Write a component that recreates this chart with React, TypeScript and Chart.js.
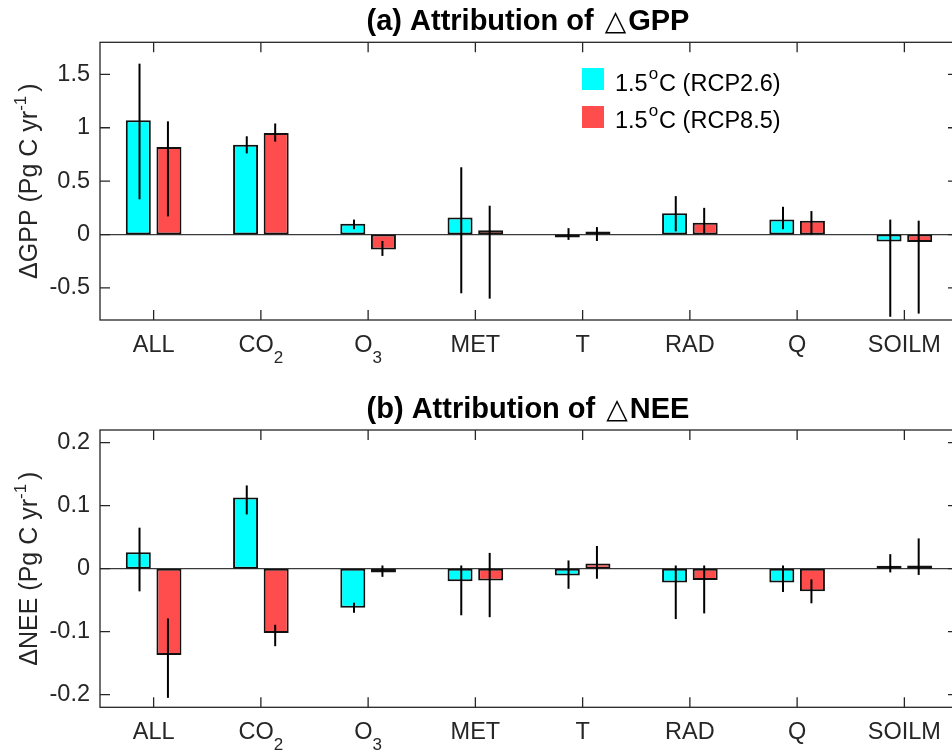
import { useEffect, useRef } from 'react';
import { Chart, registerables } from 'chart.js';

Chart.register(...registerables);

// ---------- data ----------
const CATEGORY_KEYS = ['ALL', 'CO2', 'O3', 'MET', 'T', 'RAD', 'Q', 'SOILM'];
const CATEGORY_MAIN = ['ALL', 'CO', 'O', 'MET', 'T', 'RAD', 'Q', 'SOILM'];
const CATEGORY_SUB = ['', '2', '3', '', '', '', '', ''];
const SERIES_NAMES = ['1.5°C (RCP2.6)', '1.5°C (RCP8.5)'];

// (a) GPP
const GPP_RCP26 = [1.07, 0.84, 0.1, 0.16, -0.005, 0.2, 0.14, -0.065];
const GPP_RCP26_LO = [0.33, 0.76, 0.05, -0.55, -0.05, 0.03, 0.05, -0.77];
const GPP_RCP26_HI = [1.6, 0.92, 0.14, 0.63, 0.06, 0.36, 0.26, 0.14];
const GPP_RCP85 = [0.82, 0.95, -0.14, 0.04, 0.005, 0.11, 0.13, -0.07];
const GPP_RCP85_LO = [0.17, 0.87, -0.2, -0.6, -0.06, 0.015, 0.0, -0.74];
const GPP_RCP85_HI = [1.06, 1.04, -0.06, 0.27, 0.07, 0.25, 0.22, 0.13];
const GPP_TICKS = [-0.5, 0, 0.5, 1, 1.5];

// (b) NEE
const NEE_RCP26 = [0.026, 0.113, -0.062, -0.02, -0.011, -0.022, -0.022, 0.003];
const NEE_RCP26_LO = [-0.036, 0.086, -0.07, -0.074, -0.032, -0.08, -0.037, -0.006];
const NEE_RCP26_HI = [0.065, 0.132, -0.054, 0.005, 0.013, 0.005, 0.005, 0.023];
const NEE_RCP85 = [-0.137, -0.102, -0.006, -0.019, 0.008, -0.018, -0.036, 0.005];
const NEE_RCP85_LO = [-0.205, -0.123, -0.013, -0.077, -0.016, -0.071, -0.055, -0.01];
const NEE_RCP85_HI = [-0.079, -0.089, 0.005, 0.025, 0.036, 0.005, -0.017, 0.048];
const NEE_TICKS = [-0.2, -0.1, 0, 0.1, 0.2];

// ---------- style ----------
const FONT = '"Liberation Sans", Arial, Helvetica, sans-serif';
const CYAN = '#00FFFF';
const RED = '#FF4D4D';
const EDGE = '#111111';
const AXIS = '#262626';
const CANVAS_W = 962;
const ERR_SHIFT = [1.2, -1.0];

type Seg = { t: string; font: string; dy?: number; gap?: number };

function drawSegs(ctx: CanvasRenderingContext2D, segs: Seg[], cx: number, baseY: number) {
  let total = 0;
  const widths = segs.map((s) => {
    ctx.font = s.font;
    const w = ctx.measureText(s.t).width + (s.gap || 0);
    total += w;
    return w;
  });
  let x = cx - total / 2;
  ctx.textAlign = 'left';
  ctx.textBaseline = 'alphabetic';
  segs.forEach((s, i) => {
    ctx.font = s.font;
    ctx.fillText(s.t, x, baseY + (s.dy || 0));
    x += widths[i];
  });
}

function decor(p: any) {
  return {
    id: 'decor',
    beforeDatasetsDraw(chart: any) {
      const { ctx, chartArea: a, scales } = chart;
      const y0 = scales.y.getPixelForValue(0);
      ctx.save();
      ctx.strokeStyle = '#3a3a3a';
      ctx.lineWidth = 1.2;
      ctx.beginPath();
      ctx.moveTo(a.left, y0);
      ctx.lineTo(a.right, y0);
      ctx.stroke();
      ctx.restore();
    },
    afterDatasetsDraw(chart: any) {
      const { ctx, chartArea: a, scales } = chart;
      const xs = scales.x;
      const ys = scales.y;
      ctx.save();
      // error bars
      ctx.strokeStyle = '#000';
      ctx.lineWidth = 2;
      [0, 1].forEach((d) => {
        const meta = chart.getDatasetMeta(d);
        meta.data.forEach((el: any, i: number) => {
          const x = el.x + ERR_SHIFT[d];
          ctx.beginPath();
          ctx.moveTo(x, ys.getPixelForValue(p.lo[d][i]));
          ctx.lineTo(x, ys.getPixelForValue(p.hi[d][i]));
          ctx.stroke();
        });
      });
      // axes box
      ctx.strokeStyle = AXIS;
      ctx.lineWidth = 1.3;
      ctx.strokeRect(a.left, a.top, a.right - a.left, a.bottom - a.top);
      // ticks (inward)
      const TL = 10;
      ctx.beginPath();
      CATEGORY_KEYS.forEach((_, i) => {
        const x = xs.getPixelForValue(i);
        ctx.moveTo(x, a.bottom);
        ctx.lineTo(x, a.bottom - TL);
        ctx.moveTo(x, a.top);
        ctx.lineTo(x, a.top + TL);
      });
      p.ticks.forEach((v: number) => {
        const y = ys.getPixelForValue(v);
        ctx.moveTo(a.left, y);
        ctx.lineTo(a.left + TL, y);
        ctx.moveTo(a.right, y);
        ctx.lineTo(a.right - TL, y);
      });
      ctx.stroke();
      // category labels with subscripts
      ctx.fillStyle = AXIS;
      CATEGORY_MAIN.forEach((m, i) => {
        const x = xs.getPixelForValue(i);
        const segs: Seg[] = [{ t: m, font: `23.5px ${FONT}` }];
        if (CATEGORY_SUB[i]) segs.push({ t: CATEGORY_SUB[i], font: `17px ${FONT}`, dy: 11 });
        drawSegs(ctx, segs, x, a.bottom + 31.5);
      });
      // y title (rotated)
      ctx.save();
      ctx.translate(37, (a.top + a.bottom) / 2);
      ctx.rotate(-Math.PI / 2);
      ctx.fillStyle = AXIS;
      drawSegs(
        ctx,
        [
          { t: `Δ${p.yName} (Pg C yr`, font: `25px ${FONT}` },
          { t: '-1', font: `17px ${FONT}`, dy: -11, gap: 4 },
          { t: ')', font: `25px ${FONT}` },
        ],
        0,
        0
      );
      ctx.restore();
      // title
      ctx.fillStyle = '#000';
      drawSegs(
        ctx,
        [
          { t: `${p.titlePrefix} Attribution of `, font: `bold 29px ${FONT}`, gap: 3 },
          { t: '△', font: `28px "DejaVu Sans", ${FONT}`, gap: 2 },
          { t: p.yName, font: `bold 29px ${FONT}` },
        ],
        (a.left + a.right) / 2 - 1,
        p.titleBase
      );
      // legend
      if (p.legend) {
        const colors = [CYAN, RED];
        const sq = [68, 106];
        const base = [91, 128];
        SERIES_NAMES.forEach((name, i) => {
          ctx.fillStyle = colors[i];
          ctx.fillRect(582, sq[i], 22, 22);
          ctx.fillStyle = '#000';
          const parts = name.split('°');
          ctx.textAlign = 'left';
          ctx.textBaseline = 'alphabetic';
          let x = 615;
          ctx.font = `23.5px ${FONT}`;
          ctx.fillText(parts[0], x, base[i]);
          x += ctx.measureText(parts[0]).width + 1;
          ctx.font = `17px ${FONT}`;
          ctx.fillText('o', x, base[i] - 12);
          x += ctx.measureText('o').width + 1;
          ctx.font = `23.5px ${FONT}`;
          ctx.fillText(parts[1], x, base[i]);
        });
      }
      ctx.restore();
    },
  };
}

function buildChart(canvas: HTMLCanvasElement, p: any) {
  const ds = (i: number, color: string) => ({
    label: SERIES_NAMES[i],
    data: p.s[i],
    backgroundColor: color,
    borderColor: EDGE,
    borderWidth: 2,
    borderSkipped: false,
    minBarLength: 3,
    categoryPercentage: 0.571,
    barPercentage: 0.817,
  });
  return new Chart(canvas, {
    type: 'bar',
    data: {
      labels: CATEGORY_KEYS,
      datasets: [ds(0, CYAN), ds(1, RED)],
    },
    options: {
      responsive: false,
      animation: false,
      devicePixelRatio: 1,
      layout: { padding: { left: 0, right: 4, top: p.padTop, bottom: p.padBottom } },
      plugins: { legend: { display: false }, tooltip: { enabled: false }, title: { display: false } },
      scales: {
        x: {
          type: 'category',
          offset: true,
          grid: { display: false, drawTicks: false },
          border: { display: false },
          ticks: { display: false },
          afterFit: (s: any) => {
            s.height = 0;
          },
        },
        y: {
          type: 'linear',
          min: p.min,
          max: p.max,
          grid: { display: false, drawTicks: false },
          border: { display: false },
          afterBuildTicks: (s: any) => {
            s.ticks = p.ticks.map((v: number) => ({ value: v }));
          },
          ticks: {
            font: { family: FONT, size: 23.5 },
            color: AXIS,
            padding: 10,
            autoSkip: false,
            callback: (v: any) => String(v),
          },
          afterFit: (s: any) => {
            s.width = 100;
          },
        },
      },
    } as any,
    plugins: [decor(p)],
  });
}

function Panel({ top, height, p }: { top: number; height: number; p: any }) {
  const ref = useRef<HTMLCanvasElement | null>(null);
  useEffect(() => {
    if (!ref.current) return;
    const c = buildChart(ref.current, p);
    return () => c.destroy();
  }, []);
  return (
    <canvas
      ref={ref}
      width={CANVAS_W}
      height={height}
      style={{ position: 'absolute', left: 0, top, width: CANVAS_W, height, display: 'block' }}
    />
  );
}

const PANEL_A = {
  s: [GPP_RCP26, GPP_RCP85],
  lo: [GPP_RCP26_LO, GPP_RCP85_LO],
  hi: [GPP_RCP26_HI, GPP_RCP85_HI],
  ticks: GPP_TICKS,
  min: -0.8,
  max: 1.8,
  yName: 'GPP',
  titlePrefix: '(a)',
  titleBase: 30,
  padTop: 42.3,
  padBottom: 52,
  legend: true,
};

const PANEL_B = {
  s: [NEE_RCP26, NEE_RCP85],
  lo: [NEE_RCP26_LO, NEE_RCP85_LO],
  hi: [NEE_RCP26_HI, NEE_RCP85_HI],
  ticks: NEE_TICKS,
  min: -0.22,
  max: 0.22,
  yName: 'NEE',
  titlePrefix: '(b)',
  titleBase: 46.3,
  padTop: 58,
  padBottom: 45.7,
  legend: false,
};

export default function App() {
  return (
    <div
      style={{
        position: 'absolute',
        left: 0,
        top: 0,
        width: 952,
        height: 753,
        overflow: 'hidden',
        background: '#ffffff',
      }}
    >
      <Panel top={0} height={372} p={PANEL_A} />
      <Panel top={372} height={381} p={PANEL_B} />
    </div>
  );
}
